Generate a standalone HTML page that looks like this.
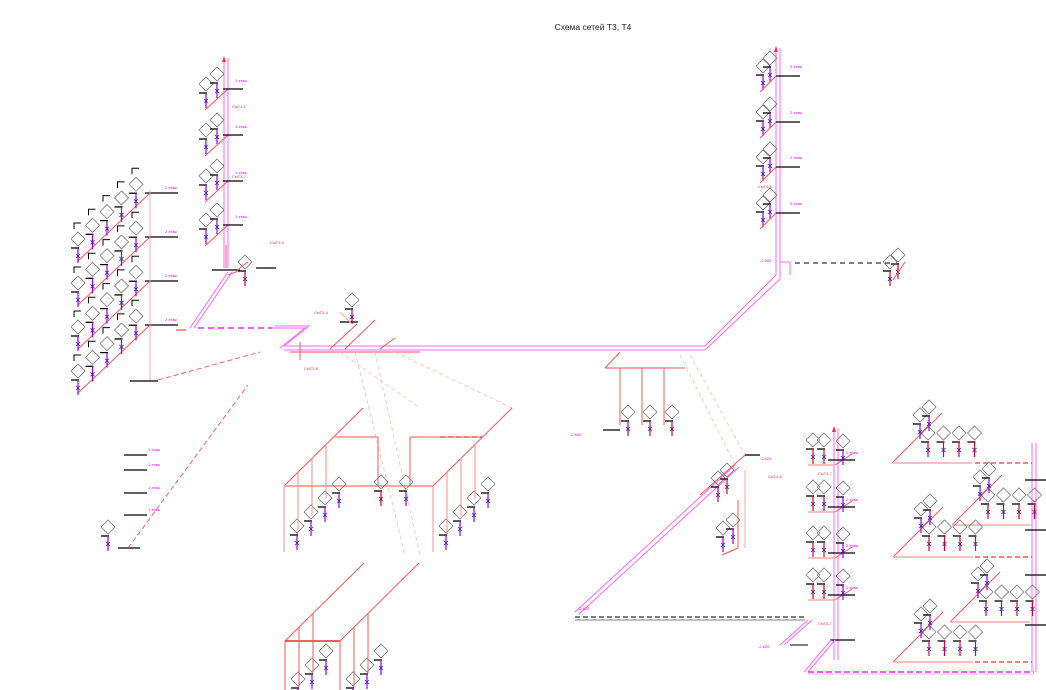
<!DOCTYPE html>
<html><head><meta charset="utf-8"><style>
html,body{margin:0;padding:0;background:#fff;width:1046px;height:690px;overflow:hidden}
svg{display:block}
text{font-family:"Liberation Sans",sans-serif}
</style></head><body>
<svg id="s" width="1046" height="690" viewBox="0 0 1046 690" xmlns="http://www.w3.org/2000/svg">
<text x="593" y="30" font-size="8.5" text-anchor="middle" fill="#222">Схема сетей Т3, Т4</text>
<g id="g" fill="none" stroke-width="1"></g>
</svg>
<script>
var g=document.getElementById('g'),h='';
function L(x1,y1,x2,y2,c,w,d){h+='<line x1="'+x1+'" y1="'+y1+'" x2="'+x2+'" y2="'+y2+'" stroke="'+(c||'#f55')+'" stroke-width="'+(w||1)+'"'+(d?' stroke-dasharray="'+d+'"':'')+'/>';}
function P(pts,c,w,d){h+='<polyline points="'+pts+'" stroke="'+(c||'#f55')+'" stroke-width="'+(w||1)+'"'+(d?' stroke-dasharray="'+d+'"':'')+'/>';}
function T(x,y,s,c){h+='<text x="'+x+'" y="'+y+'" font-size="4" fill="'+(c||'#e0e')+'" stroke="none">'+s+'</text>';}
function F(x,y,c){
 P((x-7)+','+y+' '+x+','+(y-7)+' '+(x+7)+','+y+' '+x+','+(y+7)+' '+(x-7)+','+y,'#777',0.8);
 L(x-7,y+9,x+1,y+9,'#000',1.3);
 L(x,y+9,x,y+24,c||'#d03',1.2);
 L(x-2,y+15,x+2,y+19,'#22c',0.8);L(x+2,y+15,x-2,y+19,'#22c',0.8);
}
function R(x,y1,y2){L(x,y1,x,y2,'#f6f',1);L(x+4,y1,x+4,y2,'#f6f',1);}
function MM(pts){P(pts,'#f6f',1);}
R(224,58,268);h+='<polygon points="222,62 226,62 224,56" fill="#f33"/>';
[0,1,2,3].forEach(function(i){var y=[84,130,176,220][i];F(206,y,'#a0c');F(217,y-10,'#a0c');L(205,y+26,228,y+5);L(223,y+5,243,y+5,'#000',1.3);T(235,y-2,'1 этаж');});
L(226,268,226,245,'#faa',2);L(212,270,240,270,'#000',1.3);
F(352,300);L(340,322,358,322,'#000',1.3);L(340,312,352,324,'#faa');
F(245,262);P('228,275 236,272 240,268 248,262','#f55');L(256,268,276,268,'#000',1.3);
for(var r=0;r<4;r++){var y0=193+44*r;L(78,y0+68,150,y0);L(145,y0,178,y0,'#000',1.3);T(165,y0-4,'2 этаж');
 for(var i=0;i<5;i++){var x=78+14.5*i;var yb=y0+68-(x-78)*68/72;F(x,yb-22,'#a0c');P((x-4)+','+(yb-32)+' '+(x-4)+','+(yb-38)+' '+(x+3)+','+(yb-38),'#000',1);}}
L(150,190,150,382,'#faa',1);L(130,381,158,381,'#000',1.3);F(108,527,'#a0c');L(118,548,140,548,'#000',1.3);
[455,470,493,515].forEach(function(y){L(124,y,147,y,'#000',1.3);T(148,y-4,'1 этаж');});
L(128,548,248,385,'#f44',0.8,'5,3');L(158,380,260,352,'#f44',0.8,'5,3');
MM('228,272 190,328');MM('232,272 194,328');
L(198,328,272,328,'#e0e',1.2,'6,4');L(176,330,186,330,'#f44',1.2);
MM('272,328 305,328 280,348');MM('275,326 309,326 284,346');
L(284,346,705,346,'#f6f',1);L(284,350,705,350,'#f6f',1);
L(290,352,420,352,'#f55',1);L(300,342,300,360,'#f55');
L(330,349,357,324,'#f55');L(345,349,375,320,'#f55');L(380,349,395,338,'#f55');
MM('705,346 776,275 776,48');MM('705,350 780,279 780,48');h+='<polygon points="774,52 778,52 776,46" fill="#f33"/>';
L(780,262,790,262,'#f6f');L(790,262,790,275,'#f6f');
L(795,263,890,263,'#000',1,'5,4');F(898,255);F(890,262);L(893,280,905,262,'#f55');
[0,1,2,3].forEach(function(i){var y=[66,112,157,203][i];F(763,y,'#a0c');F(770,y-8,'#a0c');L(760,y+26,776,y+10);L(776,y+10,800,y+10,'#000',1.3);T(790,y+2,'2 этаж');});
P('605,368 620,352');L(605,368,685,368,'#f55');[620,642,664].forEach(function(x){L(x,368,x,425,'#f55');F(x+8,412);});L(603,430,620,430,'#000',1.3);
L(340,352,420,408,'#fbb',0.8,'4,3');L(355,352,405,555,'#fbb',0.8,'4,3');L(375,352,420,555,'#fbb',0.8,'4,3');L(395,352,512,408,'#fbb',0.8,'4,3');
L(284,486,363,408);L(284,486,433,486,'#f88',1.6);L(433,486,512,408);L(335,437,378,437);L(378,437,378,486);L(410,437,410,486);L(410,437,482,437,'#f55');L(440,437,482,437,'#e00',1,'5,3');
[0,1,2,3].forEach(function(i){var x=284+14*i,y=486-14*i;L(x,y,x,y+66-i*4,'#f88');F(x+13,y+40,'#a0c');});
[0,1,2,3].forEach(function(i){var x=433+14*i,y=486-14*i;L(x,y,x,y+66-i*4,'#f88');F(x+13,y+40,'#a0c');});
F(381,482,'#e00');F(406,482,'#a0c');
L(285,641,364,563);L(285,641,340,641,'#e00',1.2);L(340,641,419,563);
[0,1,2].forEach(function(i){var x=285+14*i,y=641-14*i;L(x,y,x,y+60);F(x+13,y+38,'#a0c');});
[0,1,2].forEach(function(i){var x=340+14*i,y=641-14*i;L(x,y,x,y+60);F(x+13,y+38,'#a0c');});
L(690,355,745,455,'#fbb',0.8,'4,3');L(680,355,735,465,'#fbb',0.8,'4,3');
MM('575,612 735,465');MM('579,614 739,467');L(700,495,745,455,'#f55');L(745,455,760,455,'#000',1.3);
F(718,478);F(727,470);F(723,528,'#a0c');F(733,520,'#a0c');L(738,500,738,548);L(738,548,722,555);L(745,470,745,548,'#faa');
L(575,617,805,617,'#000',1,'5,3');L(575,620,805,620,'#000',0.5);
R(834,428,660);h+='<polygon points="832,432 836,432 834,426" fill="#f33"/>';
[0,1,2,3].forEach(function(i){var y=[440,487,533,575][i];F(813,y);F(824,y);L(808,y+25,835,y+25,'#faa',1.5);L(835,y+25,852,y+14);L(828,y+20,855,y+20,'#000',1.3);F(843,y+1,'#a0c');T(846,y+14,'2 этаж');});
L(830,640,855,640,'#000',1.3);L(808,620,780,645,'#f6f');L(812,620,784,645,'#f6f');L(790,645,808,645,'#000');
L(808,672,835,640,'#f6f');L(804,672,831,640,'#f6f');
L(808,672,1034,672,'#e0e',1.2,'6,3');L(808,674,1034,674,'#f6f',0.6);
R(1032,443,672);
function blk(y,x0){L(x0,y,x0+50,y-50);L(x0,y,x0+80,y,'#faa',1.5);for(var k=0;k<4;k++)F(x0+36+15.5*k,y-30);F(x0+28,y-48,'#a0c');F(x0+37,y-56,'#a0c');}
blk(463,892);blk(525,952);blk(557,893);blk(622,950);blk(662,893);
L(975,463,1032,463,'#e00',1,'5,3');L(975,557,1032,557,'#e00',1,'5,3');L(975,662,1032,662,'#e00',1,'5,3');
[480,530,575,625].forEach(function(y){L(1025,y,1046,y,'#000',1.2);});
T(232,108,'СмТ3-1','#f33');T(232,178,'СмТ3-2','#f33');T(270,244,'СмТ3-3','#f33');T(314,314,'СмТ3-4','#f33');T(304,370,'СмТ3-6','#f33');T(758,188,'СмТ4-6','#f33');T(768,478,'СмТ4-8','#f33');T(818,475,'СмТ4-7','#f33');T(818,625,'СмТ4-7','#f33');
T(570,436,'-2.500','#e0e');T(760,460,'-2.620','#e0e');T(760,262,'-2.600','#e0e');T(578,610,'-2.620','#e0e');T(758,648,'-2.620','#e0e');
g.innerHTML=h;
</script>
</body></html>
